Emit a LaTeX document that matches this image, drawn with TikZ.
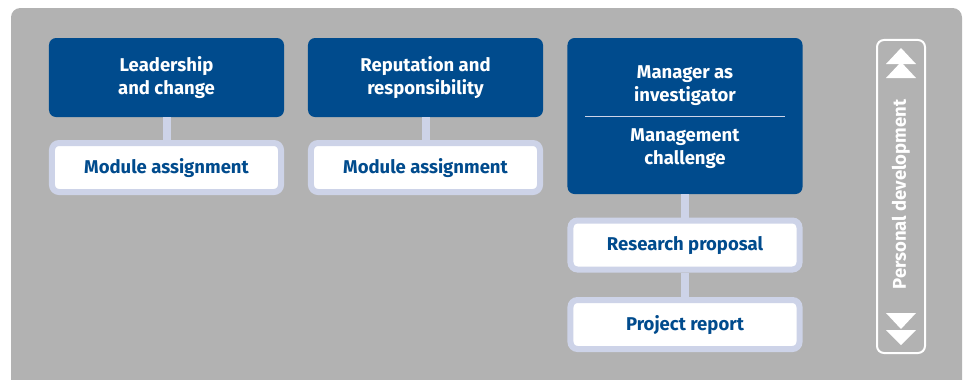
\documentclass[tikz,border=0pt]{standalone}
\usepackage{fontspec}
\setmainfont{Fira Sans}
\definecolor{navy}{HTML}{004B8D}
\definecolor{lav}{HTML}{CDD3E8}
\definecolor{panel}{HTML}{B2B2B2}

\begin{document}
\begin{tikzpicture}
  [x=0.03cm,y=-0.03cm,
   every node/.style={font=\bfseries\fontsize{15.8}{19.5}\selectfont},
   topic/.style={rectangle,rounded corners=6pt,fill=navy,text=white,align=center,minimum width=7.05cm,minimum height=2.37cm,inner sep=0pt},
   task/.style={rectangle,rounded corners=6pt,fill=white,draw=lav,line width=0.18cm,text=navy,minimum width=6.87cm,minimum height=1.47cm,inner sep=0pt,text depth=0.4ex},
   link/.style={lav,line width=0.24cm}]
  \useasboundingbox (0,0) rectangle (966,379);
  \fill[panel,rounded corners=8pt] (11,8) rectangle (962,420);

  \node[topic] (lead) at (166.5,77.5) {Leadership\\and change};
  \node[topic] (rep) at (425.5,77.5) {Reputation and\\responsibility};
  \node[topic,minimum height=4.68cm] (man) at (685,116) {};
  \node[text=white,align=center] (man1) at (685,86) {Manager as\\investigator};
  \node[text=white,align=center] (man2) at (685,149) {Management\\challenge};
  \draw[lav,line width=0.6pt] (585,116) -- (785,116);

  \node[task] (mod1) at (166.5,167.5) {Module assignment};
  \node[task] (mod2) at (425.5,167.5) {Module assignment};
  \node[task] (prop) at (685,245) {Research proposal};
  \node[task] (rep2) at (685,324.5) {Project report};

  \draw[link] (lead) -- (mod1);
  \draw[link] (rep) -- (mod2);
  \draw[link] (man) -- (prop);
  \draw[link] (prop) -- (rep2);

  \node[rectangle,rounded corners=6pt,draw=white,line width=0.06cm,minimum width=1.44cm,minimum height=9.39cm] (pd) at (901,196.5) {};
  \node[rotate=90,text=white] (pdtext) at (901,194.5) {Personal development};
  \fill[white] (886,64) -- (901,48) -- (916,64) -- cycle;
  \fill[white] (886,78) -- (901,62) -- (916,78) -- cycle;
  \fill[white] (886,313) -- (901,329) -- (916,313) -- cycle;
  \fill[white] (886,330) -- (901,345) -- (916,330) -- cycle;
\end{tikzpicture}
\end{document}
